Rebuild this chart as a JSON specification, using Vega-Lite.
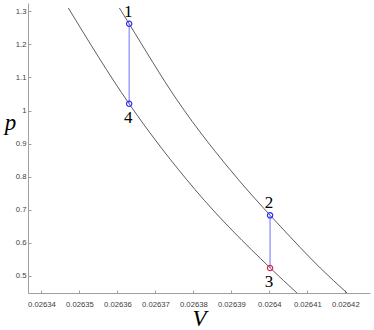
{
  "$schema": "https://vega.github.io/schema/vega-lite/v6.json",
  "width": 342,
  "height": 290,
  "autosize": {"type": "none"},
  "padding": {"left": 28, "top": 3, "right": 4, "bottom": 37},
  "background": "white",
  "config": {"view": {"stroke": null}},
  "datasets": {
    "iso": [
      {"curve": "upper", "V": 0.02636053, "p": 1.3103},
      {"curve": "upper", "V": 0.02636308, "p": 1.2628},
      {"curve": "upper", "V": 0.02637565, "p": 1.0327},
      {"curve": "upper", "V": 0.02639188, "p": 0.7906},
      {"curve": "upper", "V": 0.02640024, "p": 0.6826},
      {"curve": "upper", "V": 0.02640287, "p": 0.6500},
      {"curve": "upper", "V": 0.02641341, "p": 0.5234},
      {"curve": "upper", "V": 0.02642045, "p": 0.4477},
      {"curve": "lower", "V": 0.02634709, "p": 1.3103},
      {"curve": "lower", "V": 0.02636308, "p": 1.0206},
      {"curve": "lower", "V": 0.02638047, "p": 0.7603},
      {"curve": "lower", "V": 0.02640024, "p": 0.5234},
      {"curve": "lower", "V": 0.02640727, "p": 0.4477}
    ],
    "segs": [
      {"seg": "1-4", "V": 0.0263631, "p": 1.2628, "p2": 1.0206},
      {"seg": "2-3", "V": 0.0264002, "p": 0.6826, "p2": 0.5234}
    ],
    "pts": [
      {"label": "1", "V": 0.0263631, "p": 1.2628, "state": "b"},
      {"label": "2", "V": 0.0264002, "p": 0.6826, "state": "b"},
      {"label": "3", "V": 0.0264002, "p": 0.5234, "state": "r"},
      {"label": "4", "V": 0.0263631, "p": 1.0206, "state": "b"}
    ]
  },
  "encoding": {
    "x": {
      "field": "V", "type": "quantitative",
      "scale": {"domain": [0.02633647, 0.02642651], "nice": false, "zero": false},
      "axis": {
        "values": [0.02634, 0.02635, 0.02636, 0.02637, 0.02638, 0.02639, 0.0264, 0.02641, 0.02642],
        "format": "~g", "grid": false,
        "domainColor": "#a0a0a0", "tickColor": "#a0a0a0", "tickSize": -3, "labelPadding": 10,
        "labelFont": "Liberation Sans", "labelFontSize": 7.7, "labelColor": "#404040",
        "title": "V", "titleFont": "Liberation Serif", "titleFontStyle": "italic", "titleFontWeight": "normal",
        "titleFontSize": 23, "titleColor": "black", "titlePadding": 0
      }
    },
    "y": {
      "field": "p", "type": "quantitative",
      "scale": {"domain": [0.4476, 1.3254], "nice": false, "zero": false},
      "axis": {
        "values": [0.5, 0.6, 0.7, 0.8, 0.9, 1.0, 1.1, 1.2, 1.3],
        "format": "~g", "grid": false,
        "domainColor": "#a0a0a0", "tickColor": "#a0a0a0", "tickSize": -3, "labelPadding": 5,
        "labelFont": "Liberation Sans", "labelFontSize": 7.7, "labelColor": "#404040",
        "title": "p", "titleFont": "Liberation Serif", "titleFontStyle": "italic", "titleFontWeight": "normal",
        "titleFontSize": 23, "titleColor": "black", "titleAngle": 0,
        "titleX": -18, "titleY": 126, "titleAlign": "center", "titleBaseline": "alphabetic"
      }
    }
  },
  "layer": [
    {
      "data": {"name": "iso"},
      "mark": {"type": "line", "color": "#333333", "strokeWidth": 0.8, "interpolate": "monotone", "clip": true},
      "encoding": {"detail": {"field": "curve"}}
    },
    {
      "data": {"name": "segs"},
      "mark": {"type": "rule", "color": "#7070ff", "strokeWidth": 1},
      "encoding": {"y2": {"field": "p2"}, "detail": {"field": "seg"}}
    },
    {
      "data": {"name": "pts"},
      "mark": {"type": "point", "shape": "circle", "filled": false, "size": 28, "strokeWidth": 1.2, "opacity": 1},
      "encoding": {
        "color": {"field": "state", "type": "nominal", "scale": {"domain": ["b", "r"], "range": ["#2a2aff", "#e0203c"]}, "legend": null}
      }
    },
    {
      "data": {"name": "pts"},
      "transform": [{"filter": "datum.label == '1' || datum.label == '2'"}],
      "mark": {"type": "text", "font": "Liberation Serif", "fontSize": 17, "color": "black", "baseline": "alphabetic", "dy": -7, "dx": -1},
      "encoding": {"text": {"field": "label"}}
    },
    {
      "data": {"name": "pts"},
      "transform": [{"filter": "datum.label == '3' || datum.label == '4'"}],
      "mark": {"type": "text", "font": "Liberation Serif", "fontSize": 17, "color": "black", "baseline": "alphabetic", "dy": 19, "dx": -1},
      "encoding": {"text": {"field": "label"}}
    }
  ]
}
